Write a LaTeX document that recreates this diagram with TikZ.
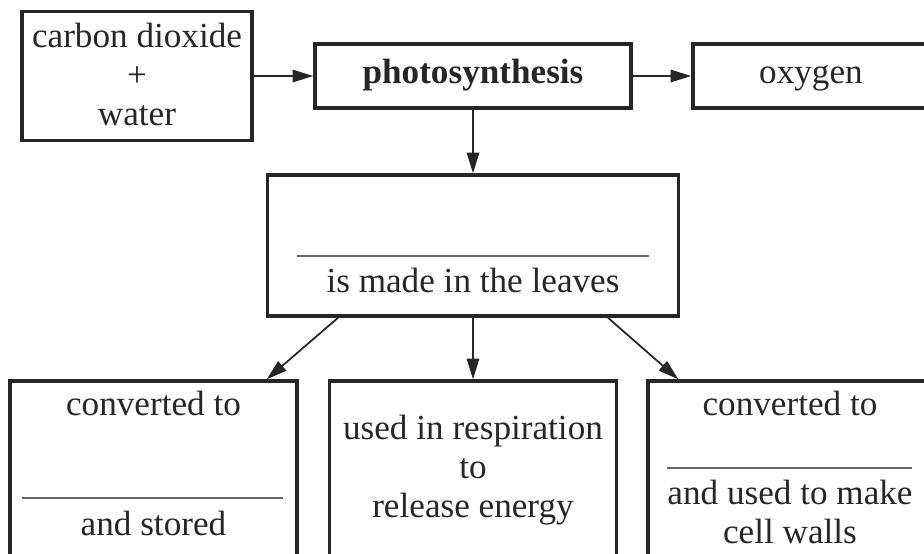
\documentclass[tikz,border=0pt]{standalone}
\usepackage{fontspec}
\setmainfont{Liberation Serif}
\usetikzlibrary{arrows.meta, positioning, calc}
\newcommand{\pxl}{0.012cm}

\begin{document}
\begin{tikzpicture}[
  x=\pxl, y=-\pxl,
  every node/.style={font=\fontsize{12}{13.2}\selectfont, text=black!85},
  box/.style={draw=black!85, line width=1.2pt, inner sep=0pt},
  txt/.style={align=center, inner sep=0pt, anchor=base},
  answer/.style={draw=black!60, line width=0.4pt},
  arrow/.style={draw=black!85, line width=0.6pt, -{Triangle[length=7pt, width=4.2pt]}}
]
  \clip (0,0) rectangle (924,553);

  % boxes
  \node[box, minimum width=230*\pxl, minimum height=129*\pxl] (source) at (137,76) {};
  \node[box, minimum width=316*\pxl, minimum height=64*\pxl] (photo) at (473,76) {};
  \node[box, minimum width=237*\pxl, minimum height=64*\pxl] (oxygen) at (811.5,76) {};
  \node[box, minimum width=411*\pxl, minimum height=141*\pxl] (sugar) at (473,245.5) {};
  \node[box, minimum width=287*\pxl, minimum height=219*\pxl] (store) at (153.5,490.5) {};
  \node[box, minimum width=287*\pxl, minimum height=219*\pxl] (resp) at (473,490.5) {};
  \node[box, minimum width=284*\pxl, minimum height=219*\pxl] (walls) at (790,490.5) {};

  % texts (base = last line)
  \node[txt] (sourcetext) at (137,125) {carbon dioxide\\+\\water};
  \node[txt] (phototext) at (473,83) {\bfseries photosynthesis};
  \node[txt] (oxygentext) at (811,83) {oxygen};
  \node[txt] (sugartext) at (473,292) {is made in the leaves};
  \node[txt] (storetop) at (153.5,415) {converted to};
  \node[txt] (storebottom) at (153.5,535) {and stored};
  \node[txt] (resptext) at (473,517) {used in respiration\\to\\release energy};
  \node[txt] (wallstop) at (790,415) {converted to};
  \node[txt] (wallsbottom) at (790,543) {and used to make\\cell walls};

  % blanks to fill in
  \draw[answer] (297,256) -- (649,256);
  \draw[answer] (22,498) -- (283,498);
  \draw[answer] (667,468) -- (912,468);

  % arrows
  \draw[arrow] (source) -- (photo);
  \draw[arrow] (photo) -- (oxygen);
  \draw[arrow] (photo) -- (sugar);
  \draw[arrow] ([xshift=-135*\pxl]sugar.south) -- ([xshift=-32*\pxl]store.north east);
  \draw[arrow] (sugar) -- (resp);
  \draw[arrow] ([xshift=135*\pxl]sugar.south) -- ([xshift=32*\pxl]walls.north west);
\end{tikzpicture}
\end{document}
